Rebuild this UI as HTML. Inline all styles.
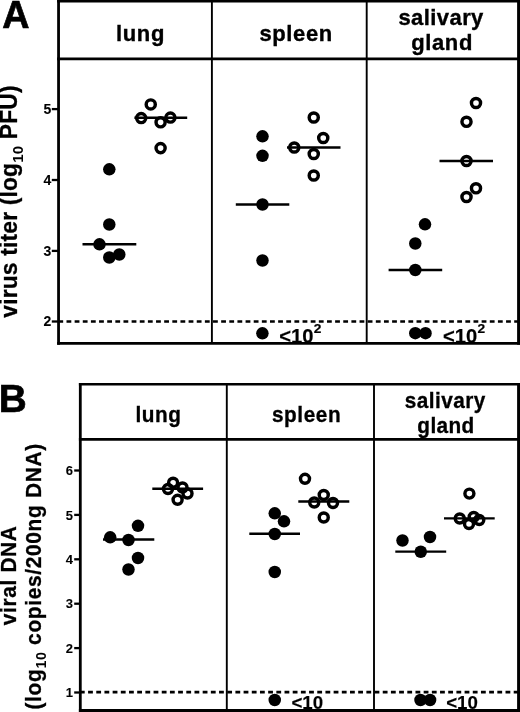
<!DOCTYPE html>
<html><head><meta charset="utf-8"><title>Figure</title>
<style>html,body{margin:0;padding:0;background:#fff;}svg{display:block;}text{font-family:'Liberation Sans', Arial, Helvetica, sans-serif;font-weight:bold;fill:#000;stroke:#000;}</style>
</head><body>
<svg width="520" height="712" viewBox="0 0 520 712">
<rect width="520" height="712" fill="#fff"/>
<line x1="58.55" y1="0" x2="58.55" y2="344.7" stroke="#000" stroke-width="2.8"/>
<line x1="518.55" y1="0" x2="518.55" y2="344.7" stroke="#000" stroke-width="2.9"/>
<line x1="57.15" y1="1.3" x2="520" y2="1.3" stroke="#000" stroke-width="2.6"/>
<line x1="57.15" y1="343.4" x2="520" y2="343.4" stroke="#000" stroke-width="2.6"/>
<line x1="57.15" y1="58.85" x2="520" y2="58.85" stroke="#000" stroke-width="2.8"/>
<line x1="211.9" y1="0" x2="211.9" y2="343.4" stroke="#000" stroke-width="1.9"/>
<line x1="366.7" y1="0" x2="366.7" y2="343.4" stroke="#000" stroke-width="1.9"/>
<line x1="51.8" y1="109.1" x2="58.55" y2="109.1" stroke="#000" stroke-width="2.3"/>
<text transform="translate(51.3 113.9) scale(1.0 1)" font-size="14" text-anchor="end" stroke-width="0.1">5</text>
<line x1="51.8" y1="180.0" x2="58.55" y2="180.0" stroke="#000" stroke-width="2.3"/>
<text transform="translate(51.3 184.8) scale(1.0 1)" font-size="14" text-anchor="end" stroke-width="0.1">4</text>
<line x1="51.8" y1="250.9" x2="58.55" y2="250.9" stroke="#000" stroke-width="2.3"/>
<text transform="translate(51.3 255.7) scale(1.0 1)" font-size="14" text-anchor="end" stroke-width="0.1">3</text>
<line x1="51.8" y1="321.5" x2="58.55" y2="321.5" stroke="#000" stroke-width="2.3"/>
<text transform="translate(51.3 326.3) scale(1.0 1)" font-size="14" text-anchor="end" stroke-width="0.1">2</text>
<line x1="58.36" y1="321.55" x2="520" y2="321.55" stroke="#000" stroke-width="2.6" stroke-dasharray="4.8 3.34"/>
<text transform="translate(140.5 41.2) scale(1.0 1)" font-size="22" text-anchor="middle" letter-spacing="0.6" stroke-width="0.35">lung</text>
<text transform="translate(296.1 40.8) scale(1.0 1)" font-size="22" text-anchor="middle" letter-spacing="0.6" stroke-width="0.35">spleen</text>
<text transform="translate(441.1 25.4) scale(1.0 1)" font-size="22" text-anchor="middle" letter-spacing="0.42" stroke-width="0.35">salivary</text>
<text transform="translate(442.1 50.4) scale(1.0 1)" font-size="22" text-anchor="middle" letter-spacing="0.6" stroke-width="0.35">gland</text>
<text transform="translate(2.3 27.6) scale(0.985 1)" font-size="38.3" text-anchor="start" stroke="#000" stroke-width="0.7">A</text>
<text transform="translate(17.4 201.5) rotate(-90) scale(0.98 1)" font-size="23.3" text-anchor="middle" letter-spacing="0.18" stroke-width="0.3">virus titer (log<tspan font-size="15.3" dy="6" stroke-width="0">10</tspan><tspan dy="-6"> PFU)</tspan></text>
<line x1="82.5" y1="244.3" x2="136.3" y2="244.3" stroke="#000" stroke-width="2.4"/>
<circle cx="109.3" cy="169.3" r="6.25" fill="#000"/>
<circle cx="109.3" cy="224.5" r="6.25" fill="#000"/>
<circle cx="99.5" cy="244.3" r="6.25" fill="#000"/>
<circle cx="109.3" cy="257.5" r="6.25" fill="#000"/>
<circle cx="119.3" cy="254.5" r="6.25" fill="#000"/>
<line x1="134.4" y1="117.8" x2="187.2" y2="117.8" stroke="#000" stroke-width="2.4"/>
<circle cx="150.75" cy="104.4" r="4.55" fill="none" stroke="#000" stroke-width="3.45"/>
<circle cx="141.2" cy="118.1" r="4.55" fill="none" stroke="#000" stroke-width="3.45"/>
<circle cx="160.6" cy="122.3" r="4.55" fill="none" stroke="#000" stroke-width="3.45"/>
<circle cx="170.4" cy="117.6" r="4.55" fill="none" stroke="#000" stroke-width="3.45"/>
<circle cx="160.6" cy="148.1" r="4.55" fill="none" stroke="#000" stroke-width="3.45"/>
<line x1="235.8" y1="204.5" x2="289.3" y2="204.5" stroke="#000" stroke-width="2.4"/>
<circle cx="262.5" cy="136.3" r="6.25" fill="#000"/>
<circle cx="262.5" cy="155.8" r="6.25" fill="#000"/>
<circle cx="262.5" cy="204.5" r="6.25" fill="#000"/>
<circle cx="262.5" cy="260.5" r="6.25" fill="#000"/>
<circle cx="262.4" cy="333.3" r="6.25" fill="#000"/>
<line x1="287" y1="147.5" x2="340.5" y2="147.5" stroke="#000" stroke-width="2.4"/>
<circle cx="313.75" cy="117.5" r="4.55" fill="none" stroke="#000" stroke-width="3.45"/>
<circle cx="323.25" cy="138" r="4.55" fill="none" stroke="#000" stroke-width="3.45"/>
<circle cx="294.25" cy="147.5" r="4.55" fill="none" stroke="#000" stroke-width="3.45"/>
<circle cx="313.75" cy="154" r="4.55" fill="none" stroke="#000" stroke-width="3.45"/>
<circle cx="313.75" cy="175.5" r="4.55" fill="none" stroke="#000" stroke-width="3.45"/>
<line x1="388.6" y1="270.0" x2="442.2" y2="270.0" stroke="#000" stroke-width="2.4"/>
<circle cx="425" cy="224.3" r="6.25" fill="#000"/>
<circle cx="415.3" cy="243.5" r="6.25" fill="#000"/>
<circle cx="415.3" cy="270.0" r="6.25" fill="#000"/>
<circle cx="415.3" cy="333.2" r="6.25" fill="#000"/>
<circle cx="425.5" cy="333.2" r="6.25" fill="#000"/>
<line x1="439.5" y1="161" x2="493" y2="161" stroke="#000" stroke-width="2.4"/>
<circle cx="476" cy="103" r="4.55" fill="none" stroke="#000" stroke-width="3.45"/>
<circle cx="466.5" cy="121.8" r="4.55" fill="none" stroke="#000" stroke-width="3.45"/>
<circle cx="466.5" cy="161" r="4.55" fill="none" stroke="#000" stroke-width="3.45"/>
<circle cx="476" cy="188.3" r="4.55" fill="none" stroke="#000" stroke-width="3.45"/>
<circle cx="466.5" cy="197" r="4.55" fill="none" stroke="#000" stroke-width="3.45"/>
<text transform="translate(279.3 343.3) scale(1.02 1)" font-size="19.8" text-anchor="start" stroke-width="0.2">&lt;10<tspan font-size="13.5" dy="-10.0" dx="0.3">2</tspan></text>
<text transform="translate(443.0 343.3) scale(1.02 1)" font-size="19.8" text-anchor="start" stroke-width="0.2">&lt;10<tspan font-size="13.5" dy="-10.0" dx="0.3">2</tspan></text>
<line x1="80.3" y1="383.0" x2="80.3" y2="712" stroke="#000" stroke-width="2.8"/>
<line x1="518.55" y1="383.0" x2="518.55" y2="712" stroke="#000" stroke-width="2.9"/>
<line x1="78.89999999999999" y1="384.3" x2="520" y2="384.3" stroke="#000" stroke-width="2.6"/>
<line x1="78.89999999999999" y1="710.5" x2="520" y2="710.5" stroke="#000" stroke-width="3.0"/>
<line x1="78.89999999999999" y1="439.35" x2="520" y2="439.35" stroke="#000" stroke-width="2.7"/>
<line x1="226.8" y1="384.3" x2="226.8" y2="710.5" stroke="#000" stroke-width="1.9"/>
<line x1="374.0" y1="384.3" x2="374.0" y2="710.5" stroke="#000" stroke-width="1.9"/>
<line x1="74.2" y1="470.5" x2="80.3" y2="470.5" stroke="#000" stroke-width="2.3"/>
<text transform="translate(73.1 475.1) scale(1.0 1)" font-size="13" text-anchor="end" stroke-width="0.1">6</text>
<line x1="74.2" y1="514.9" x2="80.3" y2="514.9" stroke="#000" stroke-width="2.3"/>
<text transform="translate(73.1 519.5) scale(1.0 1)" font-size="13" text-anchor="end" stroke-width="0.1">5</text>
<line x1="74.2" y1="559.3" x2="80.3" y2="559.3" stroke="#000" stroke-width="2.3"/>
<text transform="translate(73.1 563.9) scale(1.0 1)" font-size="13" text-anchor="end" stroke-width="0.1">4</text>
<line x1="74.2" y1="603.7" x2="80.3" y2="603.7" stroke="#000" stroke-width="2.3"/>
<text transform="translate(73.1 608.3) scale(1.0 1)" font-size="13" text-anchor="end" stroke-width="0.1">3</text>
<line x1="74.2" y1="648.1" x2="80.3" y2="648.1" stroke="#000" stroke-width="2.3"/>
<text transform="translate(73.1 652.7) scale(1.0 1)" font-size="13" text-anchor="end" stroke-width="0.1">2</text>
<line x1="74.2" y1="692.5" x2="80.3" y2="692.5" stroke="#000" stroke-width="2.3"/>
<text transform="translate(73.1 697.1) scale(1.0 1)" font-size="13" text-anchor="end" stroke-width="0.1">1</text>
<line x1="79.9" y1="692.1" x2="520" y2="692.1" stroke="#000" stroke-width="2.6" stroke-dasharray="4.8 3.385"/>
<text transform="translate(158.5 422.4) scale(0.98 1)" font-size="21.2" text-anchor="middle" letter-spacing="0.6" stroke-width="0.3">lung</text>
<text transform="translate(306.6 422.0) scale(0.98 1)" font-size="21.2" text-anchor="middle" letter-spacing="0.6" stroke-width="0.3">spleen</text>
<text transform="translate(445.3 407.5) scale(0.98 1)" font-size="21.2" text-anchor="middle" letter-spacing="0.45" stroke-width="0.3">salivary</text>
<text transform="translate(446.0 432.5) scale(0.98 1)" font-size="21.2" text-anchor="middle" letter-spacing="0.4" stroke-width="0.3">gland</text>
<text transform="translate(-1.2 412.3) scale(1.02 1)" font-size="38" text-anchor="start" stroke="#000" stroke-width="0.7">B</text>
<text transform="translate(15.8 575.3) rotate(-90) scale(0.98 1)" font-size="21.3" text-anchor="middle" letter-spacing="0.65" stroke-width="0.3">viral DNA</text>
<text transform="translate(40.7 576.4) rotate(-90) scale(0.98 1)" font-size="21.3" text-anchor="middle" letter-spacing="0.69" stroke-width="0.3">(log<tspan font-size="14.6" dy="5.2" stroke-width="0">10</tspan><tspan dy="-5.2"> copies/200ng DNA)</tspan></text>
<line x1="103" y1="539.5" x2="154.3" y2="539.5" stroke="#000" stroke-width="2.4"/>
<circle cx="138" cy="525.8" r="6.25" fill="#000"/>
<circle cx="110.2" cy="537.3" r="6.25" fill="#000"/>
<circle cx="128.5" cy="540" r="6.25" fill="#000"/>
<circle cx="138" cy="558.0" r="6.25" fill="#000"/>
<circle cx="128.5" cy="569.5" r="6.25" fill="#000"/>
<line x1="152.3" y1="488.7" x2="203.1" y2="488.7" stroke="#000" stroke-width="2.4"/>
<circle cx="173.1" cy="482.7" r="4.5" fill="none" stroke="#000" stroke-width="3.45"/>
<circle cx="168" cy="489" r="4.5" fill="none" stroke="#000" stroke-width="3.45"/>
<circle cx="182.5" cy="487.5" r="4.5" fill="none" stroke="#000" stroke-width="3.45"/>
<circle cx="187.5" cy="493.5" r="4.5" fill="none" stroke="#000" stroke-width="3.45"/>
<circle cx="177.6" cy="499.8" r="4.5" fill="none" stroke="#000" stroke-width="3.45"/>
<line x1="249.3" y1="533.8" x2="300" y2="533.8" stroke="#000" stroke-width="2.4"/>
<circle cx="274.75" cy="513.3" r="6.25" fill="#000"/>
<circle cx="284" cy="521.3" r="6.25" fill="#000"/>
<circle cx="274.75" cy="534" r="6.25" fill="#000"/>
<circle cx="274.75" cy="572" r="6.25" fill="#000"/>
<circle cx="274.75" cy="700" r="6.25" fill="#000"/>
<line x1="298.3" y1="501.5" x2="349.3" y2="501.5" stroke="#000" stroke-width="2.4"/>
<circle cx="305" cy="478.8" r="4.5" fill="none" stroke="#000" stroke-width="3.45"/>
<circle cx="323.75" cy="495" r="4.5" fill="none" stroke="#000" stroke-width="3.45"/>
<circle cx="314.25" cy="502.5" r="4.5" fill="none" stroke="#000" stroke-width="3.45"/>
<circle cx="333" cy="503" r="4.5" fill="none" stroke="#000" stroke-width="3.45"/>
<circle cx="323.75" cy="517.5" r="4.5" fill="none" stroke="#000" stroke-width="3.45"/>
<line x1="395.3" y1="551.6" x2="446.2" y2="551.6" stroke="#000" stroke-width="2.4"/>
<circle cx="402.5" cy="540.5" r="6.25" fill="#000"/>
<circle cx="430" cy="537" r="6.25" fill="#000"/>
<circle cx="420.75" cy="551.75" r="6.25" fill="#000"/>
<line x1="444" y1="518.4" x2="494.7" y2="518.4" stroke="#000" stroke-width="2.4"/>
<circle cx="469.4" cy="493.6" r="4.5" fill="none" stroke="#000" stroke-width="3.45"/>
<circle cx="459.75" cy="518.5" r="4.5" fill="none" stroke="#000" stroke-width="3.45"/>
<circle cx="473.75" cy="516.9" r="4.5" fill="none" stroke="#000" stroke-width="3.45"/>
<circle cx="479.25" cy="520" r="4.5" fill="none" stroke="#000" stroke-width="3.45"/>
<circle cx="469" cy="524" r="4.5" fill="none" stroke="#000" stroke-width="3.45"/>
<circle cx="420.5" cy="700" r="6.25" fill="#000"/>
<circle cx="430.1" cy="700" r="6.25" fill="#000"/>
<text transform="translate(291.4 709.2) scale(0.985 1)" font-size="19" text-anchor="start" stroke-width="0.15">&lt;10</text>
<text transform="translate(446.2 709.2) scale(0.985 1)" font-size="19" text-anchor="start" stroke-width="0.15">&lt;10</text>
</svg></body></html>
